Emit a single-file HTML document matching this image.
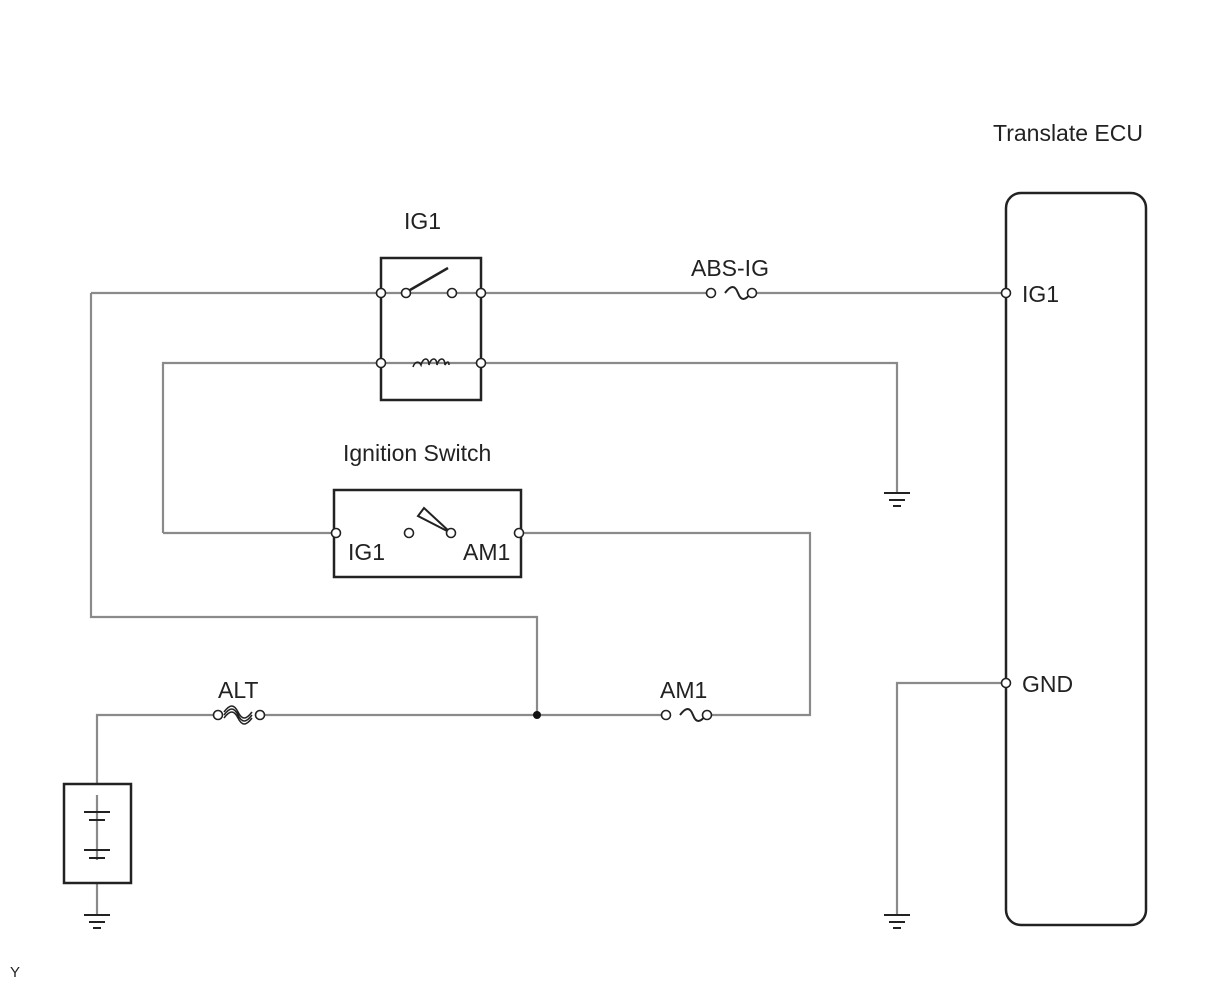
<!DOCTYPE html>
<html><head><style>body{margin:0;background:#fff}svg{display:block}text{font-family:"Liberation Sans",sans-serif;font-size:23px;fill:#222}</style></head><body>
<svg width="1210" height="986" viewBox="0 0 1210 986">
<g stroke="#8a8a8a" stroke-width="2.2" fill="none">
<path d="M91 293H711M752 293H1006"/>
<path d="M91 293V617H537V715"/>
<path d="M163 533V363H897V493"/>
<path d="M163 533H336M519 533H810V715H707"/>
<path d="M97 784V715H218M260 715H666"/>
<path d="M97 883V915"/>
<path d="M1006 683H897V915"/>
<path d="M97 795V860"/>
</g>
<g stroke="#222" stroke-width="2.5" fill="none">
<rect x="381" y="258" width="100" height="142"/>
<rect x="334" y="490" width="187" height="87"/>
<rect x="64" y="784" width="67" height="99"/>
<rect x="1006" y="193" width="140" height="732" rx="15"/>
<path d="M410 290L448 268"/>
<path d="M451 533L424 508L418 516Z" stroke-width="2"/>
<path d="M413 367c2-6 6-6 8-2c2-8 8-8 8 0c2-8 8-8 8 0c2-8 8-8 8 0c2-4 4-4 4 0" stroke-width="1.6"/>
<path d="M725 293c6-8 10-8 13 0s7 8 13 0" stroke-width="2"/>
<path d="M680 715c6-8 10-8 13 0s7 8 13 0" stroke-width="2"/>
<path d="M224 715c6-8 10-8 14 0s8 8 14 0M224 712c6-8 10-8 14 0s8 8 14 0M224 718c6-8 10-8 14 0s8 8 14 0" stroke-width="1.5"/>
</g>
<g stroke="#222" stroke-width="2">
<path d="M84 812H110M89 820H105M84 850H110M89 858H105"/>
<path d="M84 915H110M89 922H105M93 928H101"/>
<path d="M884 493H910M889 500H905M893 506H901"/>
<path d="M884 915H910M889 922H905M893 928H901"/>
</g>
<g stroke="#222" stroke-width="1.6" fill="#fff">
<circle cx="381" cy="293" r="4.5"/><circle cx="406" cy="293" r="4.5"/><circle cx="452" cy="293" r="4.5"/><circle cx="481" cy="293" r="4.5"/>
<circle cx="381" cy="363" r="4.5"/><circle cx="481" cy="363" r="4.5"/>
<circle cx="711" cy="293" r="4.5"/><circle cx="752" cy="293" r="4.5"/>
<circle cx="1006" cy="293" r="4.5"/><circle cx="1006" cy="683" r="4.5"/>
<circle cx="336" cy="533" r="4.5"/><circle cx="409" cy="533" r="4.5"/><circle cx="451" cy="533" r="4.5"/><circle cx="519" cy="533" r="4.5"/>
<circle cx="218" cy="715" r="4.5"/><circle cx="260" cy="715" r="4.5"/>
<circle cx="666" cy="715" r="4.5"/><circle cx="707" cy="715" r="4.5"/>
</g>
<circle cx="537" cy="715" r="4" fill="#111"/>
<text x="993" y="141">Translate ECU</text>
<text x="404" y="229">IG1</text>
<text x="691" y="276">ABS-IG</text>
<text x="1022" y="302">IG1</text>
<text x="1022" y="692">GND</text>
<text x="343" y="461">Ignition Switch</text>
<text x="348" y="560">IG1</text>
<text x="463" y="560">AM1</text>
<text x="218" y="698">ALT</text>
<text x="660" y="698">AM1</text>
<text x="10" y="977" style="font-size:15px">Y</text>
</svg>
</body></html>
